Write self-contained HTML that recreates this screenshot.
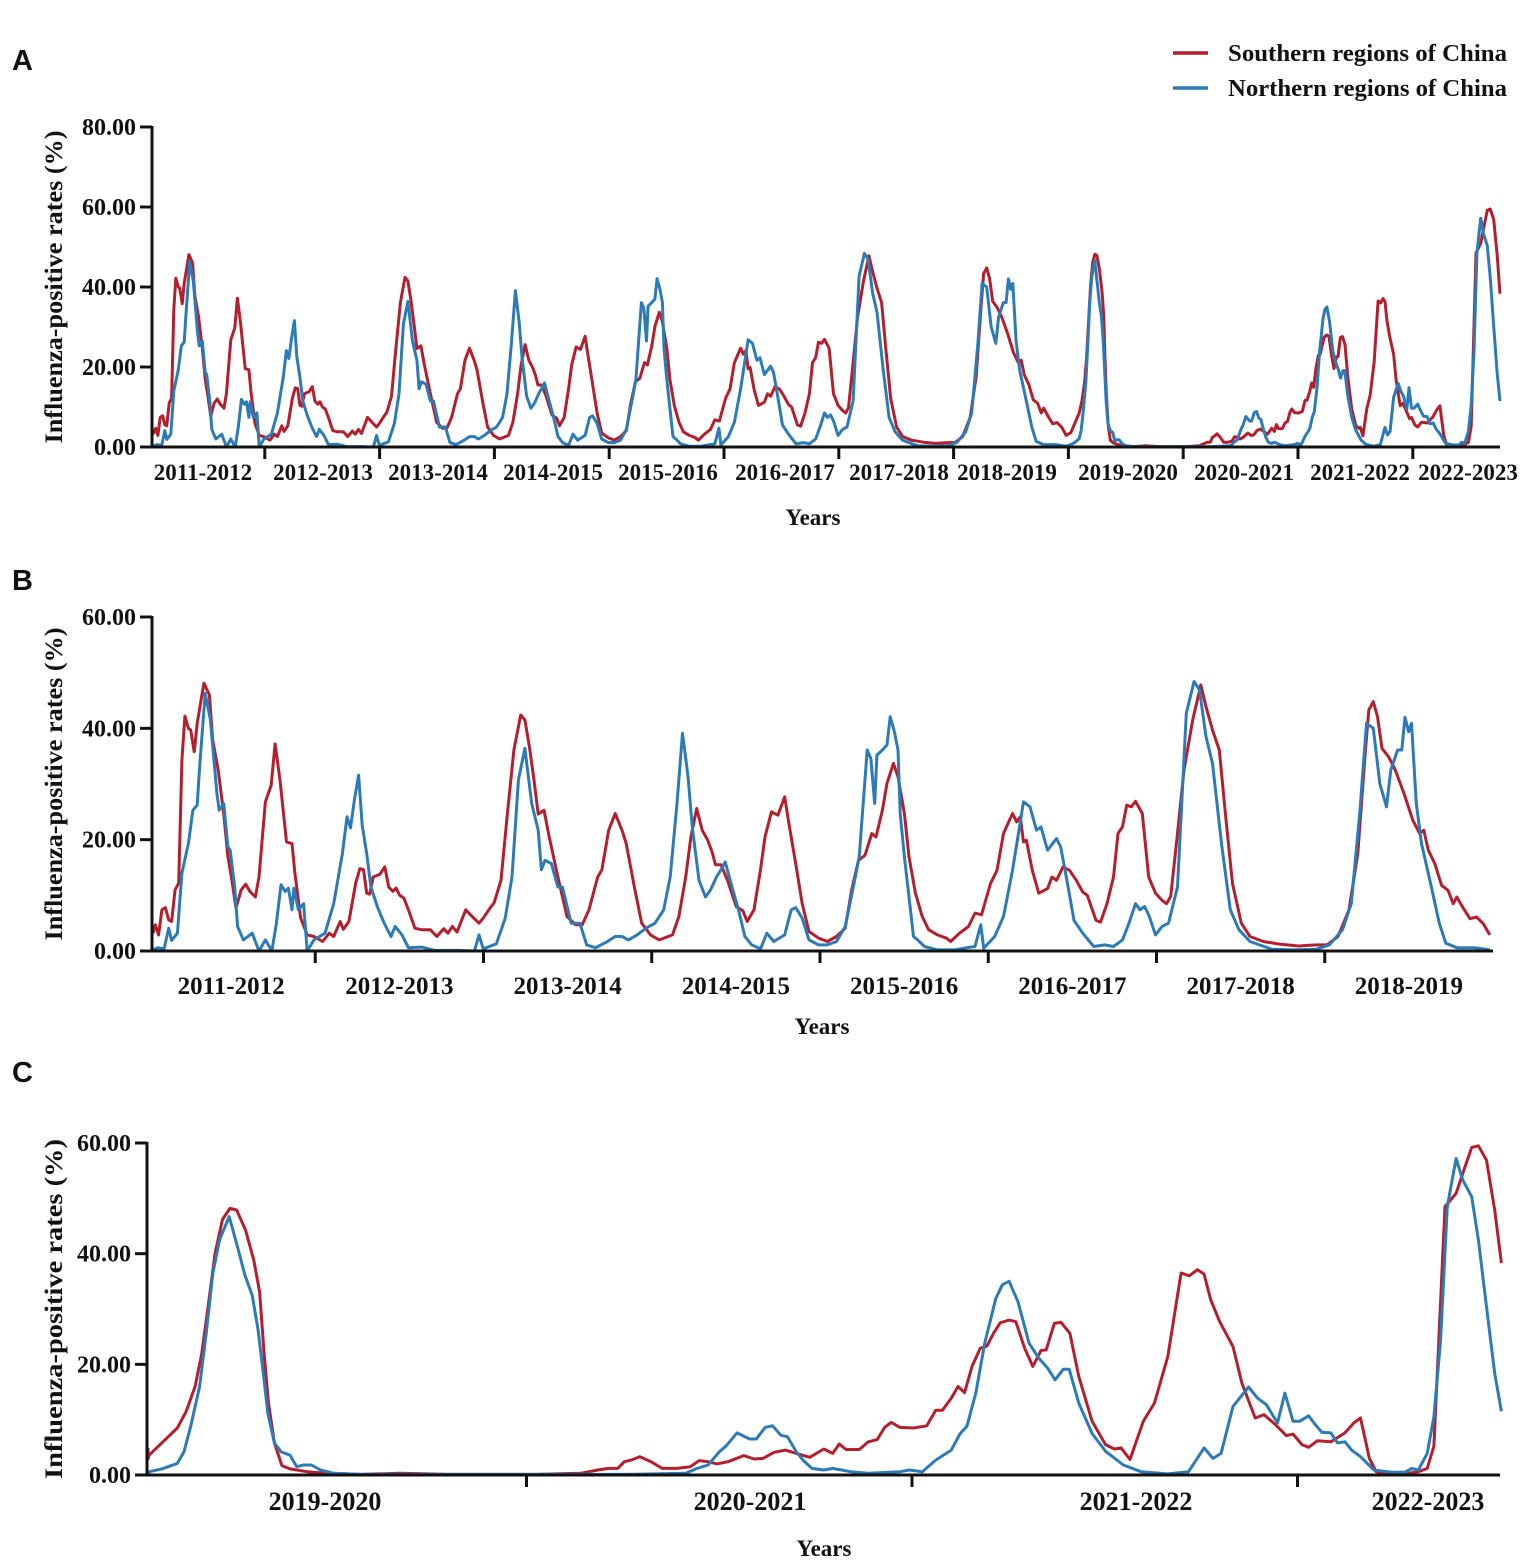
<!DOCTYPE html>
<html><head><meta charset="utf-8"><style>
html,body{margin:0;padding:0;background:#fff;}
svg{display:block;}
text{font-family:"Liberation Serif",serif;font-weight:bold;fill:#111;}
.pl{font-family:"Liberation Sans",sans-serif;font-weight:bold;font-size:29px;}
</style></head><body>
<svg id="chart" width="1535" height="1568" viewBox="0 0 1535 1568" xmlns="http://www.w3.org/2000/svg">
<text class="pl" x="12" y="70">A</text>
<text class="pl" x="12" y="590">B</text>
<text class="pl" x="12" y="1082">C</text>
<g>
<line x1="1173" y1="53" x2="1208" y2="53" stroke="#B41F2E" stroke-width="3.5"/>
<text x="1228" y="61" font-size="24" textLength="279" lengthAdjust="spacingAndGlyphs">Southern regions of China</text>
<line x1="1173" y1="88" x2="1208" y2="88" stroke="#2C7BB6" stroke-width="3.5"/>
<text x="1228" y="96" font-size="24" textLength="279" lengthAdjust="spacingAndGlyphs">Northern regions of China</text>
</g>
</svg>
<script>
// ---- data: week index since start of 2011-2012 season, positive rate (%) ----
const seasons = ["2011-2012","2012-2013","2013-2014","2014-2015","2015-2016","2016-2017","2017-2018","2018-2019","2019-2020","2020-2021","2021-2022","2022-2023"];
const southWeeks = [1.2,2.6,3.6,4.6,5.7,6.7,7.6,8.7,9.8,10.8,11.7,12.8,13.5,14.6,15.5,17.6,19.3,20.3,22.0,23.7,25.0,26.1,27.5,29.1,30.5,31.8,33.5,34.6,36.6,38.4,39.6,41.1,43.1,44.8,45.7,47.5,49.5,51.6,54.3,56.3,57.7,59.7,60.7,62.4,64.5,65.8,66.9,67.9,68.8,69.9,72.0,73.5,74.7,76.0,77.0,78.1,79.4,80.8,82.8,84.9,87.6,89.6,91.7,93.0,94.4,95.8,98.5,100.5,102.6,103.9,106.0,107.3,109.4,111.4,113.4,115.5,116.8,118.2,119.6,120.9,122.7,124.3,127.0,129.8,132.5,134.5,136.6,139.3,140.6,142.7,144.7,146.8,148.1,150.8,152.9,155.6,158.3,162.4,164.4,166.5,168.1,169.9,171.6,173.3,174.6,175.7,177.4,179.4,182.1,184.2,185.5,187.6,189.6,191.0,193.0,195.0,197.1,198.4,200.5,202.5,204.6,207.6,210.3,213.1,215.8,217.8,219.9,221.9,224.0,225.3,227.3,228.7,230.7,232.1,234.1,235.5,237.5,239.6,241.6,244.3,247.1,248.4,251.1,253.9,255.9,257.9,260.7,262.7,264.7,267.5,268.8,269.9,270.9,271.8,273.6,275.6,278.3,279.7,281.1,283.1,285.1,287.2,289.2,290.6,293.3,294.7,296.7,298.7,300.1,301.5,302.8,304.2,305.5,307.6,309.6,311.7,313.7,315.1,316.4,318.5,320.5,323.2,325.7,327.3,329.3,331.4,333.4,335.5,338.2,340.9,345.0,350.4,355.9,361.3,364.7,368.1,371.5,374.2,376.5,377.6,379.0,380.3,381.7,383.7,385.8,388.5,391.2,393.3,394.6,396.0,398.0,400.1,402.1,403.7,404.8,406.9,408.9,410.9,413.0,415.0,417.1,418.8,420.9,422.1,423.3,424.2,425.1,426.0,427.0,428.0,428.9,430.1,431.2,432.0,432.6,433.2,434.0,435.0,436.1,438.4,440.8,445.6,450.9,457.5,469.3,475.3,477.6,479.1,480.3,481.2,482.1,483.3,484.8,486.3,488.3,490.1,491.3,492.5,493.7,495.2,497.3,498.7,499.9,501.4,502.9,504.4,506.2,508.1,509.3,510.2,511.1,512.9,514.1,515.3,516.3,517.2,518.4,520.2,522.0,523.2,524.1,525.3,526.2,527.1,528.1,529.2,530.1,531.0,531.9,533.1,534.0,535.2,536.3,537.4,538.1,539.2,540.1,541.3,542.5,544.3,546.1,547.3,548.2,549.4,551.2,552.7,554.5,556.3,557.4,558.5,559.4,560.3,561.5,563.3,564.5,566.3,567.5,569.0,570.5,571.4,572.6,573.5,574.7,576.5,578.4,579.6,580.5,581.7,582.6,584.1,586.5,588.3,589.5,590.4,591.9,593.4,594.3,595.5,596.4,597.5,598.6,599.5];
const southValues = [3.2,4.7,2.9,7.4,7.8,5.6,5.3,11,12.2,34.3,42.2,40,39.7,35.8,40.9,48.1,46,37.9,32.5,24.7,16.9,13.3,7.7,11,12,10.7,9.7,13.3,26.8,29.8,37.2,30.7,19.6,19.3,14,5.9,2.9,2.6,1.7,3.2,2.6,5.3,3.9,5.3,12.2,14.8,14.6,10.4,10.2,13.3,13.8,15.1,11.5,10.7,11.3,10,9.5,7.4,4.1,3.8,3.8,2.6,4,3.2,4.4,3.4,7.4,6.2,5,5.9,7.7,8.7,12.7,24.7,36.1,42.4,41.5,36.7,30.7,24.6,25.3,20.5,13.3,6.2,4.7,4.7,7.4,13.3,14.6,21.7,24.7,21.7,19.3,11,5,2.9,2,2.9,6.2,13.3,20.5,25.6,21.7,19.9,17.9,15.5,15.5,12.7,8,7.2,5.3,7.4,14.6,20.5,25,24.4,27.7,22.9,15.7,8.5,3.5,2.3,1.7,2.6,4.1,11,16.3,17.2,21.1,20.5,25.3,30.1,33.7,31.3,24.7,16.9,10.4,6.2,3.8,2.9,2.3,1.7,3.2,4.4,6.8,6.5,12.1,14.5,21.1,24.7,23.2,24.1,19.6,19.9,14.5,10.4,11.2,13.3,12.7,15.1,14.5,12.7,10.6,10,5.5,5.2,8.5,13.3,21.1,22.3,26.2,25.9,26.9,24.7,13.3,10.4,9.1,8.5,9.8,21.1,32.5,41.5,47.8,43.9,39.7,36.1,24.1,12.1,5,2.6,1.7,1.2,0.9,1.1,1.1,2.6,7.4,17.5,35.5,43.3,44.8,42.1,36.4,34.9,32.5,28.3,23.5,21.1,21.7,18.1,15.7,11.8,10.9,8.5,9.7,7.6,5.8,6.1,4.9,2.9,3.6,5.8,8.5,11.5,16,22,31,40.1,46.2,48.2,47.9,44.3,38.9,33.1,22,13,5.8,1.7,1.1,0.6,0.3,0.1,0.3,0.1,0.1,0.3,0.9,1.2,1.2,2.4,2.7,3.3,2.4,1.2,1.2,1.5,2.6,2.4,2,2.4,3.5,2.9,3.0,4.1,4.5,3.9,3.2,4.7,3.9,5.6,4.6,4.6,6.0,6.4,8.6,9.5,8.6,8.5,8.9,11.7,11.7,13.9,16,14.9,19.6,22.9,23.3,25.6,27.5,28,27.7,22.9,19.6,22.5,22.6,27.4,27.6,25.6,17.8,9.7,5.5,4.7,4.9,2.8,9.7,13,21.4,36.5,36,37.1,36.3,31.6,27.7,23.2,16.6,10.3,10.9,9.1,7.1,7.4,5.5,5.0,6.2,6.0,7.6,9.4,10.3,3.0,0.6,0.2,0.2,0.6,1.2,5.2,48.5,50.9,54.5,59.2,59.5,56.9,47.9,38.3];
const northWeeks = [1.2,3.3,5.3,6.7,7.6,9.4,10.8,12.8,14.2,15.5,16.2,18.0,19.6,21.6,22.3,23.7,25.0,25.7,27.1,28.0,29.8,32.5,34.6,36.6,38.6,40.0,41.4,42.7,43.7,44.8,45.4,46.8,48.4,49.5,51.6,55.0,57.7,60.4,61.8,62.9,64.1,65.4,66.5,67.9,69.2,71.3,73.3,75.4,76.7,78.8,80.8,84.9,89.0,95.8,101.2,102.6,103.9,108.0,110.7,112.8,114.8,116.8,118.9,120.9,121.9,123.0,125.0,127.0,128.4,131.1,133.8,135.9,138.6,142.0,144.7,146.8,148.8,151.5,154.2,157.0,159.7,161.7,163.8,165.5,167.2,168.5,170.6,172.6,174.2,176.0,177.4,178.7,180.8,182.8,184.8,186.9,189.6,191.6,193.7,197.1,199.1,200.5,202.5,204.6,207.6,210.3,213.1,215.8,218.5,220.1,221.2,222.6,223.7,224.9,225.6,227.3,228.7,229.7,231.0,232.1,232.8,234.1,235.5,236.9,238.2,240.3,244.3,249.8,252.5,255.9,257.7,258.6,262.0,264.7,267.5,269.5,270.9,272.9,274.9,276.3,278.3,281.1,282.4,284.5,286.5,289.2,292.6,296.0,298.7,301.5,303.5,305.5,306.9,308.3,309.6,311.7,313.7,315.7,318.5,321.2,323.6,325.3,327.3,329.3,332.1,334.8,337.5,340.9,347.7,354.5,361.3,365.4,369.5,372.2,374.9,376.9,379.0,381.0,383.1,384.4,386.5,387.8,388.8,389.9,390.8,392.3,393.9,396.7,399.4,401.4,404.8,410.3,415.0,417.1,418.8,420.9,421.8,422.7,423.9,424.8,425.7,426.6,427.9,429.0,430.0,431.0,431.8,432.5,433.1,434.0,434.9,436.1,437.0,437.9,439.0,440.2,442.0,445.6,469.3,481.2,489.5,491.0,492.5,494.0,494.9,496.4,498.1,499.0,500.2,501.2,502.3,503.2,504.4,505.3,506.5,508.1,509.3,510.5,511.7,514.1,518.4,519.6,521.4,523.2,525.3,526.5,527.4,528.6,529.8,531.3,532.2,533.1,534.3,535.8,537.1,538.3,539.3,540.4,541.2,542.5,544.3,546.1,548.5,550.9,554.5,557.3,559.4,560.6,561.7,563.3,565.4,566.6,567.8,569.3,570.3,571.4,572.3,573.5,574.4,575.3,576.5,577.4,578.4,579.3,580.5,582.3,584.7,586.5,587.4,588.3,589.5,590.4,591.3,592.2,593.4,594.3,595.5,596.4,597.6,598.6,599.5];
const northValues = [0.2,0.6,0.4,4.1,1.9,3.2,14,19.3,25.3,26.2,32.5,46.3,41.5,28.3,25.3,26.5,18.7,18.1,11.5,4.4,2,3.2,0,2,0,5,11.9,10.7,11.3,7.4,11.3,7.4,8.5,0,2,3.2,8.5,17.5,24.1,22.1,27.1,31.6,22.6,17.5,11.5,7.8,5,2.6,4.4,2.9,0.6,0.7,0.1,0.1,0,2.9,0.4,1.3,5.9,13.3,30.7,36.4,26.5,21.7,14.6,16.3,15.7,11.5,11.5,5,5,1.1,0.6,1.6,2.6,2.6,2,2.9,4.1,5,7.4,13.3,26.5,39.1,31.4,22.4,12.7,9.7,11,13.3,14.6,16,11.5,7.4,2.6,1.1,0.4,3.2,1.7,2.9,7.4,7.8,5.9,2,1.1,1.1,1.7,4.4,12.1,16.9,25.3,36.1,34.6,26.5,35.2,36.1,37,42.1,39.4,36.1,24.7,16.9,9.7,2.6,2,0.8,0.2,0.2,0.5,0.8,4.7,0.5,2.6,6.2,14.5,21.7,26.8,25.9,21.7,22.3,18.1,20.2,18.7,12.1,5.5,3.2,0.8,1.1,0.8,2,5,8.5,7.4,8,6.5,2.9,4.4,5,11.5,42.7,48.4,46.9,38.5,33.7,19.3,7.4,3.8,1.7,0.3,0.2,0.3,1.1,3.8,8.5,25.3,40.9,40,30.1,25.9,32.5,36.1,36.1,42,39.4,40.9,26.5,19.3,12.1,5,1.4,0.6,0.6,0.2,0.6,1.1,2.1,4.2,8.8,16,25.6,36.5,42.5,46.7,41.3,36.2,32.5,26.2,18.4,11.2,5.8,4.2,3.6,1.5,1.8,1.8,0.9,0.3,0.1,0.1,0.1,0.3,1.2,1.8,4.2,5.2,7.6,6.5,6.5,8.6,8.9,7.2,6.9,4.2,2.7,1.2,0.9,1.2,0.9,0.6,0.3,0.6,0.9,0.6,2.7,4.5,7.5,8.8,14.8,23.8,31.9,34.4,35,31.3,23.8,21.1,19.3,17.2,19.1,19.1,13,7.5,4.3,1.8,0.6,0.2,0.6,4.9,3.0,3.9,12.4,15.9,13.9,12.7,9.4,14.8,9.7,9.7,10.7,9.1,7.7,7.6,5.8,6.0,4.5,3.3,0.9,0.5,0.5,1.2,0.9,3.9,10.5,24.4,48.5,57.2,53.3,50.3,42.5,29.2,18.4,11.5];
const ticksA = [0,20,40,60,80];
const ticksBC = [0,20,40,60];

// ---- layout (positions only) ----
const NS = "http://www.w3.org/2000/svg";
const svg = document.getElementById("chart");
const RED = "#B41F2E", BLUE = "#2C7BB6";
function mk(tag, attrs, parent){const e=document.createElementNS(NS,tag);for(const k in attrs)e.setAttribute(k,attrs[k]);(parent||svg).appendChild(e);return e;}

const panels = [
 {id:"a", axisX:152, xEnd:1500, y0:447, yTop:127, yMax:80, ticks:ticksA, wStart:0, wEnd:600, firstSeason:0, nSeasons:12,
  xOf:w=> w<=572 ? 150 + w*114.8/52 : 1413 + (w-572)*87/27.5,
  labelY:480, labelSize:23, labelX:[203,323,438,553,668,785,899,1007,1128,1244,1360,1468],
  tickSize:24, titleLen:313, yearsX:813, yearsY:525, titleX:62},
 {id:"b", axisX:152, xEnd:1493, y0:951, yTop:617, yMax:60, ticks:ticksBC, wStart:0, wEnd:416, firstSeason:0, nSeasons:8,
  xOf:w=> 147 + w*168.25/52,
  labelY:994, labelSize:25, labelX:null,
  tickSize:24, titleLen:313, yearsX:822, yearsY:1034, titleX:62},
 {id:"c", axisX:147, xEnd:1500, y0:1475, yTop:1143, yMax:60, ticks:ticksBC, wStart:416, wEnd:600, firstSeason:8, nSeasons:4,
  xOf:w=> 141 + (w-416)*385.5/52,
  labelY:1510, labelSize:26, labelX:[325,750,1136,1428],
  tickSize:24, titleLen:340, yearsX:824, yearsY:1556, titleX:62}
];

panels.forEach(p=>{
  const g = mk("g",{});
  
  
  const yOf = v => p.y0 - v*(p.y0-p.yTop)/p.yMax;
  [[southWeeks,southValues,RED,"south"],[northWeeks,northValues,BLUE,"north"]].forEach(s=>{
    const pts=[];
    for(let i=0;i<s[0].length;i++){
      const w=s[0][i];
      if(w>=p.wStart-3 && w<=p.wEnd){
        let x=p.xOf(w); if(x<p.axisX+1) x=p.axisX+1;
        pts.push(x.toFixed(1)+","+yOf(s[1][i]).toFixed(1));
      }
    }
    const pl = mk("polyline",{points:pts.join(" "),fill:"none",stroke:s[2],"stroke-width":3,"stroke-linejoin":"round"},g);
    
    
  });
  const ya = mk("line",{x1:p.axisX,y1:p.yTop-1,x2:p.axisX,y2:p.y0+1.5,stroke:"#111","stroke-width":3},g);
  
  
  const xa = mk("line",{x1:p.axisX-1.5,y1:p.y0,x2:p.xEnd,y2:p.y0,stroke:"#111","stroke-width":3},g);
  
  
  p.ticks.forEach(t=>{
    const y=yOf(t);
    mk("line",{x1:p.axisX-12,y1:y,x2:p.axisX,y2:y,stroke:"#111","stroke-width":3},g);
    const tl = mk("text",{x:p.axisX-16,y:y+8,"font-size":p.tickSize,"text-anchor":"end"},g);
    tl.textContent = t.toFixed(2);
    
    
  });
  for(let k=1;k<p.nSeasons;k++){
    const x=p.xOf((p.firstSeason+k)*52);
    mk("line",{x1:x,y1:p.y0,x2:x,y2:p.y0+12,stroke:"#111","stroke-width":3},g);
  }
  for(let k=0;k<p.nSeasons;k++){
    const lx = p.labelX ? p.labelX[k] : (p.xOf((p.firstSeason+k)*52)+p.xOf((p.firstSeason+k+1)*52))/2;
    const t = mk("text",{x:lx,y:p.labelY,"font-size":p.labelSize,"text-anchor":"middle"},g);
    t.textContent = seasons[p.firstSeason+k];
    
    
  }
  const yt = mk("text",{x:0,y:0,"font-size":25,"text-anchor":"middle",textLength:p.titleLen,lengthAdjust:"spacingAndGlyphs",
    transform:"translate("+p.titleX+","+((p.y0+p.yTop)/2)+") rotate(-90)"},g);
  yt.textContent = "Influenza-positive rates (%)";
  
  
  const xt = mk("text",{x:p.yearsX,y:p.yearsY,"font-size":23,"text-anchor":"middle"},g);
  xt.textContent = "Years";
  
  
});
</script>
</body></html>
